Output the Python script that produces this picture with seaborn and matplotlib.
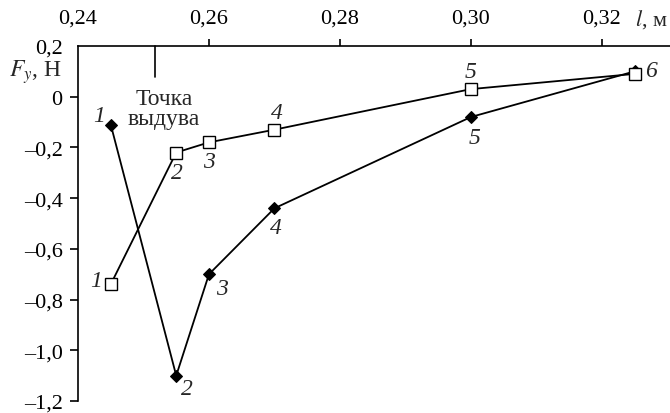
import matplotlib
matplotlib.use('Agg')
import matplotlib.pyplot as plt
import matplotlib.transforms as mtransforms
import pandas as pd
import seaborn as sns

# data
lengths = [0.245, 0.255, 0.26, 0.27, 0.30, 0.325]
force_open = [-0.74, -0.22, -0.18, -0.13, 0.03, 0.09]     # hollow squares
force_filled = [-0.11, -1.10, -0.70, -0.44, -0.08, 0.10]  # black diamonds
point_names = ['1', '2', '3', '4', '5', '6']

x_ticks = [0.24, 0.26, 0.28, 0.30, 0.32]
x_ticklabels = ['0,24', '0,26', '0,28', '0,30', '0,32']
y_ticks = [0.2, 0.0, -0.2, -0.4, -0.6, -0.8, -1.0, -1.2]
y_ticklabels = ['0,2', '0', '\u20130,2', '\u20130,4', '\u20130,6', '\u20130,8', '\u20131,0', '\u20131,2']

blow_point = 0.2518

# label offsets in pixels (dx, dy with y down)
open_offsets = [(-15, -4), (1, 20), (0, 19), (2, -17), (0, -18), (16, -3)]
filled_offsets = [(-12, -9), (11, 13), (13, 14), (1, 19), (4, 21), None]

FS = 17
TICK_FS = 16

sns.set_theme(style='white')
plt.rcParams['font.family'] = ['Liberation Serif', 'DejaVu Serif']
plt.rcParams['mathtext.fontset'] = 'stix'

df = pd.DataFrame({'l': lengths, 'open': force_open, 'filled': force_filled})

fig = plt.figure(figsize=(6.7, 4.14), dpi=100)
ax = fig.add_axes([78 / 670, 12 / 414, 592 / 670, 355 / 414])

sns.lineplot(data=df, x='l', y='filled', ax=ax, color='black', lw=1.3,
             marker='D', markersize=6.5, markerfacecolor='black',
             markeredgecolor='black', estimator=None, sort=False, zorder=3)
sns.lineplot(data=df, x='l', y='open', ax=ax, color='black', lw=1.3,
             marker='s', markersize=8, markerfacecolor='white',
             markeredgecolor='black', markeredgewidth=1.0,
             estimator=None, sort=False, zorder=4)

px = 72 / 100
for name, xv, yv, off in zip(point_names, lengths, force_open, open_offsets):
    ax.annotate(name, (xv, yv), xytext=(off[0] * px, -off[1] * px),
                textcoords='offset points', ha='center', va='center',
                fontsize=FS, style='italic')
for name, xv, yv, off in zip(point_names, lengths, force_filled, filled_offsets):
    if off is None:
        continue
    ax.annotate(name, (xv, yv), xytext=(off[0] * px, -off[1] * px),
                textcoords='offset points', ha='center', va='center',
                fontsize=FS, style='italic')

ax.set_xlim(0.24, 0.3304)
ax.set_ylim(-1.2, 0.2)
ax.xaxis.tick_top()
ax.set_xticks(x_ticks)
ax.set_xticklabels(x_ticklabels)
ax.set_yticks(y_ticks)
ax.set_yticklabels(y_ticklabels)
ax.tick_params(axis='x', which='both', top=True, bottom=False, direction='out',
               length=5, width=1.2, pad=8, labelsize=TICK_FS, colors='black')
ax.tick_params(axis='y', which='both', left=True, direction='out',
               length=6, width=1.2, pad=5, labelsize=TICK_FS, colors='black')
ax.xaxis.get_major_ticks()[0].tick2line.set_visible(False)
ax.yaxis.get_major_ticks()[0].tick1line.set_visible(False)
for side in ['right', 'bottom']:
    ax.spines[side].set_visible(False)
for side in ['top', 'left']:
    ax.spines[side].set_color('black')
    ax.spines[side].set_linewidth(1.2)
ax.set_xlabel('')
ax.set_ylabel('')

# axis names
trans_x = mtransforms.blended_transform_factory(ax.transData, ax.transAxes)
ax.text(0.3276, 1.076, '$l$, м', transform=trans_x, ha='center', va='center',
        fontsize=TICK_FS, clip_on=False)
trans_y = mtransforms.blended_transform_factory(ax.transAxes, ax.transData)
ax.text(-0.027, 0.1, '$F_y$, Н', transform=trans_y, ha='right', va='center',
        fontsize=FS, clip_on=False)

# blow point marker
ax.plot([blow_point, blow_point], [0.2, 0.078], color='black', lw=1.2, clip_on=False)
ax.text(blow_point + 0.0013, -0.045, 'Точка\nвыдува', ha='center', va='center',
        fontsize=FS, linespacing=0.95)

fig.savefig('out.png', dpi=100)
